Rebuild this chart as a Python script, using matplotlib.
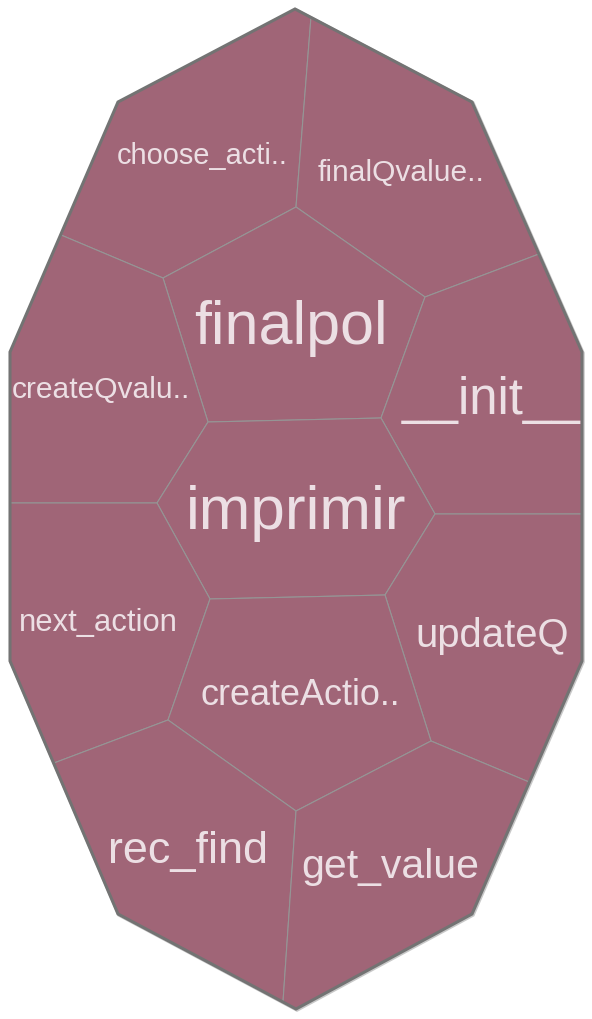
import matplotlib.pyplot as plt
from matplotlib.patches import Polygon

# cell names of the voronoi treemap
names = ['choose_acti..', 'finalQvalue..', 'finalpol', 'createQvalu..',
         '__init__', 'imprimir', 'next_action', 'updateQ',
         'createActio..', 'rec_find', 'get_value']

# label size in pixels (bigger cell -> bigger font)
label_px = [29, 30, 61, 30, 51, 62, 31, 40, 36, 45, 41]

# layout of the cells (pixel coords, y down)
outline = [(295, 10), (472, 103), (582, 353), (582, 662), (472, 915),
           (296, 1010), (118, 915), (10, 662), (10, 353), (118, 103)]

cells = [
    [(118, 103), (295, 10), (311, 18), (296, 208), (163, 279), (61, 236)],
    [(311, 18), (472, 103), (539, 255), (425, 298), (296, 208)],
    [(296, 208), (425, 298), (381, 419), (208, 423), (163, 279)],
    [(61, 236), (163, 279), (208, 423), (157, 504), (10, 504), (10, 353)],
    [(539, 255), (582, 353), (582, 515), (435, 515), (381, 419), (425, 298)],
    [(208, 423), (381, 419), (435, 515), (385, 596), (210, 600), (157, 504)],
    [(10, 504), (157, 504), (210, 600), (168, 721), (54, 764), (10, 662)],
    [(435, 515), (582, 515), (582, 662), (529, 783), (431, 742), (385, 596)],
    [(210, 600), (385, 596), (431, 742), (296, 812), (168, 721)],
    [(54, 764), (168, 721), (296, 812), (283, 1003), (118, 915)],
    [(296, 812), (431, 742), (529, 783), (472, 915), (296, 1010), (283, 1003)],
]

label_pos = [(202, 156), (401, 173), (291, 329), (101, 390), (491, 401),
             (296, 514), (98, 623), (492, 636), (300, 696), (188, 852),
             (390, 867)]

fill = '#a06577'
txt_col = '#ecdfe4'

fig = plt.figure(figsize=(5.92, 10.2), dpi=100)
ax = fig.add_axes([0, 0, 1, 1])
ax.set_xlim(0, 592)
ax.set_ylim(1020, 0)
ax.axis('off')

# soft shadow of the outline
shadow = [(x + 1, y + 1) for x, y in outline]
ax.add_patch(Polygon(shadow, closed=True, fill=False, edgecolor='#c8c8c8',
                     linewidth=2.5, joinstyle='miter', zorder=1))

for poly in cells:
    ax.add_patch(Polygon(poly, closed=True, facecolor=fill,
                         edgecolor='#959595', linewidth=0.8, zorder=2))

ax.add_patch(Polygon(outline, closed=True, fill=False, edgecolor='#737373',
                     linewidth=2.2, joinstyle='miter', zorder=3))

for name, (x, y), px in zip(names, label_pos, label_px):
    ax.text(x, y, name, ha='center', va='center', color=txt_col,
            fontsize=px * 0.72, family='Liberation Sans', zorder=4)

fig.savefig('out.png', dpi=100)
